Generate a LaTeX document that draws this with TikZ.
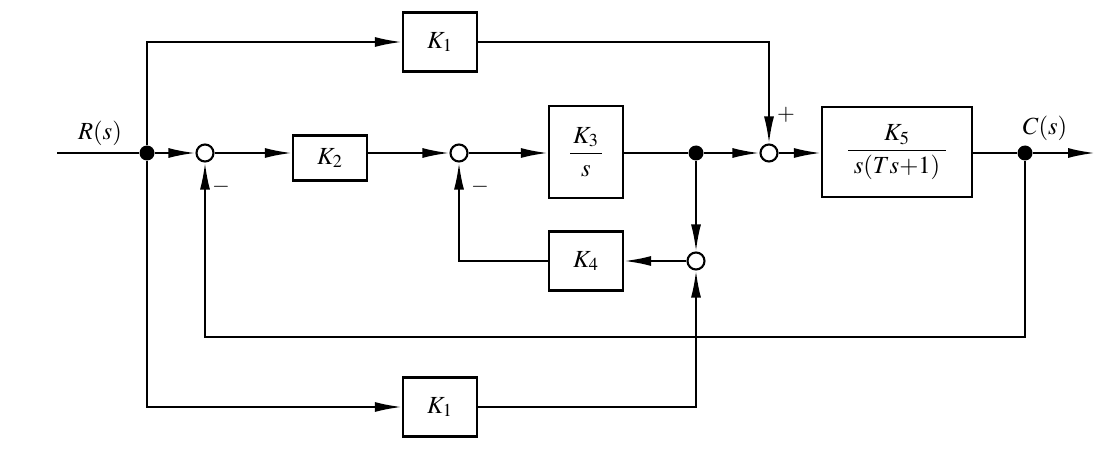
\documentclass[tikz,border=0pt]{standalone}
\usepackage{mathptmx}
\usepackage{amsmath}
\usetikzlibrary{arrows.meta}
\tikzstyle{Block}=[rectangle, draw=black, line width=1.3pt, minimum width=14.8mm, minimum height=11.8mm, inner sep=0pt]
\tikzstyle{SumNode}=[circle, draw=black, line width=1.2pt, fill=white, minimum size=3.4mm, inner sep=0pt]
\tikzstyle{DotNode}=[circle, fill=black, minimum size=3mm, inner sep=0pt]
\tikzstyle{Edge}=[-{Latex[length=5.4mm,width=2mm]}, line width=1.2pt]
\tikzstyle{Line}=[line width=1.2pt]
\tikzstyle{Sign}=[font=\fontsize{13}{15}\selectfont]

\begin{document}
\begin{tikzpicture}[x=0.2mm, y=-0.2mm, font=\fontsize{14}{17}\selectfont]
\useasboundingbox (0,0) rectangle (1100,470);

% main path
\coordinate (in) at (57,153);
\node[DotNode](brIn) at (147,153) {};
\node[SumNode](sumA) at (205,153) {};
\node[Block, minimum height=9mm](K2) at (330,158) {$K_2$};
\node[SumNode](sumB) at (459,153) {};
\node[Block, minimum height=18.4mm](K3) at (586,152) {$\dfrac{\,K_3\,}{s}$};
\node[DotNode](brMid) at (696,153) {};
\node[SumNode](sumC) at (769,153) {};
\node[Block, minimum width=30mm, minimum height=18mm](K5) at (897,152) {$\dfrac{K_5}{\;s(Ts{+}1)\;}$};
\node[DotNode](brOut) at (1025,153) {};
\coordinate (out) at (1095,153);

% forward and feedback blocks
\node[Block](K1top) at (440,42) {$K_1$};
\node[Block](K4) at (586,261) {$K_4$};
\node[SumNode](sumD) at (696,261) {};
\node[Block](K1bot) at (440,407) {$K_1$};
\coordinate (fb) at (1025,337);

% labels
\node at (100,133) {$R(s)$};
\node at (1045,128) {$C(s)$};
\node[Sign] at (221,187) {$\boldsymbol{-}$};
\node[Sign] at (480,187) {$\boldsymbol{-}$};
\node[Sign] at (786,115) {$+$};

\draw[Line](in) -- (brIn);
\draw[Edge](brIn) -- (sumA);
\draw[Edge](sumA) -- (K2.west |- sumA);
\draw[Edge](K2.east |- sumB) -- (sumB);
\draw[Edge](sumB) -- (K3.west |- sumB);
\draw[Line](K3.east |- brMid) -- (brMid);
\draw[Edge](brMid) -- (sumC);
\draw[Edge](sumC) -- (K5.west |- sumC);
\draw[Line](K5.east |- brOut) -- (brOut);
\draw[Edge](brOut) -- (out);

\draw[Edge](brIn) |- (K1top);
\draw[Edge](K1top) -| (sumC);
\draw[Edge](brMid) -- (sumD);
\draw[Edge](sumD) -- (K4);
\draw[Edge](K4) -| (sumB);
\draw[Edge](brOut) -- (fb) -| (sumA);
\draw[Edge](brIn) |- (K1bot);
\draw[Edge](K1bot) -| (sumD);
\end{tikzpicture}
\end{document}
